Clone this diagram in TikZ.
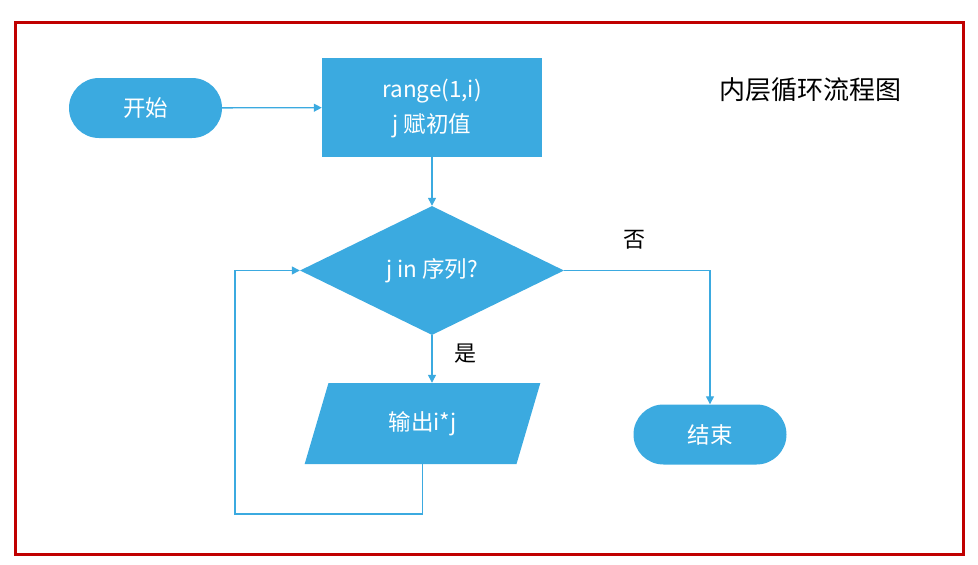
\documentclass[tikz,border=0pt]{standalone}
\usepackage{fontspec}
\setmainfont{Noto Sans CJK SC}
\usepackage{xcolor}
\usepackage{tikz}
\usetikzlibrary{arrows.meta, shapes.geometric, positioning, calc}
\definecolor{flowblue}{HTML}{3BAAE0}
\definecolor{framered}{HTML}{C00000}

\begin{document}
\begin{tikzpicture}[x=1pt, y=-1pt,
  term/.style={rectangle, fill=flowblue, rounded corners=30pt, text=white,
               minimum width=153pt, minimum height=60pt, inner sep=0pt,
               font=\fontsize{22.5}{25}\selectfont},
  proc/.style={rectangle, fill=flowblue, text=white, align=center,
               minimum width=220pt, minimum height=99pt, inner sep=0pt,
               font=\fontsize{22.5}{35}\selectfont},
  cond/.style={diamond, fill=flowblue, text=white, aspect=2, inner sep=0pt,
               minimum width=264pt, minimum height=129pt,
               font=\fontsize{22.5}{25}\selectfont},
  io/.style={trapezium, trapezium left angle=70.6, trapezium right angle=109.4,
             trapezium stretches=true, fill=flowblue, text=white, inner sep=0pt,
             minimum width=237pt, minimum height=81pt,
             font=\fontsize{22.5}{25}\selectfont},
  arr/.style={-{Triangle[length=8pt, width=8pt]}, line width=1.3pt, color=flowblue},
  lbl/.style={font=\fontsize{22}{25}\selectfont}
]
  \useasboundingbox (0,0) rectangle (978,565);
  \draw[framered, line width=3pt] (15.5,22.5) rectangle (963.5,554.5);

  \node[term] (start) at (145.5,108)   {\raisebox{-2pt}{开始}};
  \node[proc] (init)  at (432,107.5)
    {\raisebox{-3pt}{\begin{tabular}{@{}c@{}}range(1,i)\\j 赋初值\end{tabular}}};
  \node[cond] (test)  at (432,270.5)   {\raisebox{-3pt}{j in 序列?}};
  \node[io]   (out)   at (422.5,423.5) {\raisebox{-3pt}{输出i*j}};
  \node[term] (stop)  at (710,434.5)   {\raisebox{-2pt}{结束}};
  \node[lbl, font=\fontsize{26}{30}\selectfont] (title) at (810,90) {内层循环流程图};
  \node[lbl] (yes) at (465,354) {是};
  \node[lbl] (no)  at (634,240) {否};
  \coordinate (back) at (235,514);

  \draw[arr] (start) -- (init);
  \draw[arr] (init) -- (test);
  \draw[arr] (test.south) -- (test.south |- out.north);
  \draw[arr] (test.east) -| (stop.north);
  \draw[arr] (out.south) |- (back) |- (test.west);
\end{tikzpicture}
\end{document}
